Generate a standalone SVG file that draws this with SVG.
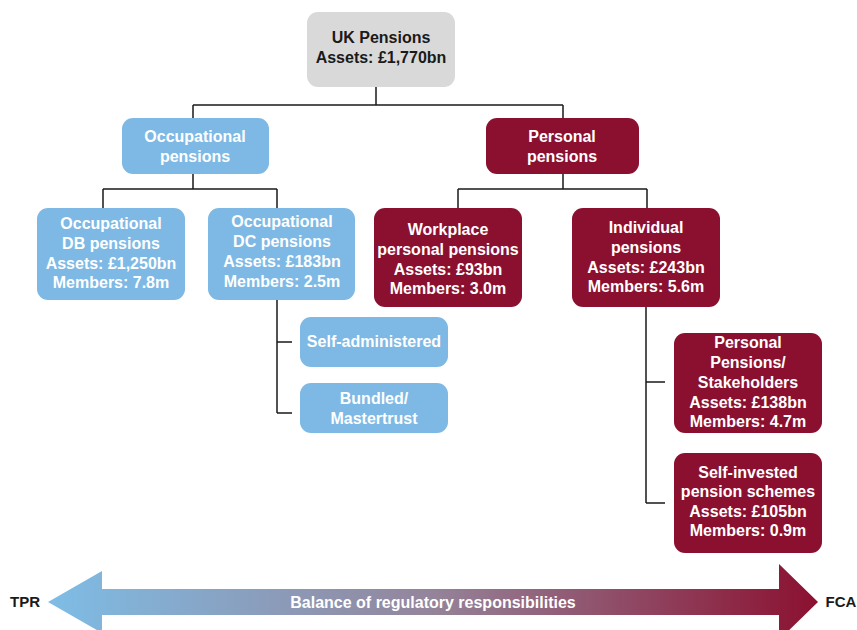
<svg xmlns="http://www.w3.org/2000/svg" width="857" height="630" viewBox="0 0 857 630">
<defs>
<linearGradient id="g" x1="48" y1="0" x2="818" y2="0" gradientUnits="userSpaceOnUse">
<stop offset="0" stop-color="#7ebde6"/>
<stop offset="0.5" stop-color="#94849a"/>
<stop offset="1" stop-color="#8b1030"/>
</linearGradient>
</defs>
<style>
text{font-family:"Liberation Sans",Arial,sans-serif;font-weight:bold;font-size:16px;text-anchor:middle;fill:#fff}
.grey{fill:#d9d9d9}
.blue{fill:#7db9e4}
.red{fill:#8b1030}
.dark{fill:#1a1a1a}
.ln{fill:none;stroke:#1a1a1a;stroke-width:1.5}
</style>
<g id="connectors">
<path class="ln" d="M376,87V105M193,105H563M193,105V118M563,105V118"/>
<path class="ln" d="M193,174V189M103,189H277M103,189V208M277,189V208"/>
<path class="ln" d="M563,174V189M458,189H647M458,189V208M647,189V208"/>
<path class="ln" d="M277,300V413M277,342H292M277,413H292"/>
<path class="ln" d="M646,307V503M646,382H665M646,503H665"/>
</g>
<g id="uk">
<rect class="grey" x="307" y="12" width="148" height="75" rx="11"/>
<text class="dark" x="381" y="43">UK Pensions</text>
<text class="dark" x="381" y="63">Assets: £1,770bn</text>
</g>
<g id="occ">
<rect class="blue" x="122" y="118" width="147" height="56" rx="11"/>
<text x="195" y="142">Occupational</text>
<text x="195" y="162">pensions</text>
</g>
<g id="pers">
<rect class="red" x="486" y="118" width="153" height="56" rx="11"/>
<text x="562" y="142">Personal</text>
<text x="562" y="162">pensions</text>
</g>
<g id="db">
<rect class="blue" x="37" y="208" width="148" height="92" rx="11"/>
<text x="111" y="229">Occupational</text>
<text x="111" y="249">DB pensions</text>
<text x="111" y="269">Assets: £1,250bn</text>
<text x="111" y="288">Members: 7.8m</text>
</g>
<g id="dc">
<rect class="blue" x="208" y="208" width="147" height="92" rx="11"/>
<text x="282" y="227">Occupational</text>
<text x="282" y="247">DC pensions</text>
<text x="282" y="267">Assets: £183bn</text>
<text x="282" y="287">Members: 2.5m</text>
</g>
<g id="wp">
<rect class="red" x="374" y="208" width="148" height="99" rx="11"/>
<text x="448" y="235">Workplace</text>
<text x="448" y="255">personal pensions</text>
<text x="448" y="275">Assets: £93bn</text>
<text x="448" y="294">Members: 3.0m</text>
</g>
<g id="ind">
<rect class="red" x="572" y="208" width="148" height="99" rx="11"/>
<text x="646" y="233">Individual</text>
<text x="646" y="253">pensions</text>
<text x="646" y="273">Assets: £243bn</text>
<text x="646" y="292">Members: 5.6m</text>
</g>
<g id="selfadmin">
<rect class="blue" x="300" y="317" width="148" height="50" rx="11"/>
<text x="374" y="347">Self-administered</text>
</g>
<g id="bundled">
<rect class="blue" x="300" y="383" width="148" height="50" rx="11"/>
<text x="374" y="404">Bundled/</text>
<text x="374" y="424">Mastertrust</text>
</g>
<g id="pp">
<rect class="red" x="674" y="333" width="148" height="100" rx="11"/>
<text x="748" y="348">Personal</text>
<text x="748" y="368">Pensions/</text>
<text x="748" y="388">Stakeholders</text>
<text x="748" y="408">Assets: £138bn</text>
<text x="748" y="427">Members: 4.7m</text>
</g>
<g id="sipp">
<rect class="red" x="674" y="453" width="148" height="100" rx="11"/>
<text x="748" y="478">Self-invested</text>
<text x="748" y="497">pension schemes</text>
<text x="748" y="517">Assets: £105bn</text>
<text x="748" y="536">Members: 0.9m</text>
</g>
<g id="arrow">
<polygon fill="url(#g)" points="48,602 102,571 102,589 779,589 779,564 818,602 779,640 779,615 102,615 102,633"/>
<text x="433" y="608">Balance of regulatory responsibilities</text>
<text class="dark" x="25" y="607" style="font-size:15px">TPR</text>
<text class="dark" x="841" y="607" style="font-size:15px">FCA</text>
</g>
</svg>
